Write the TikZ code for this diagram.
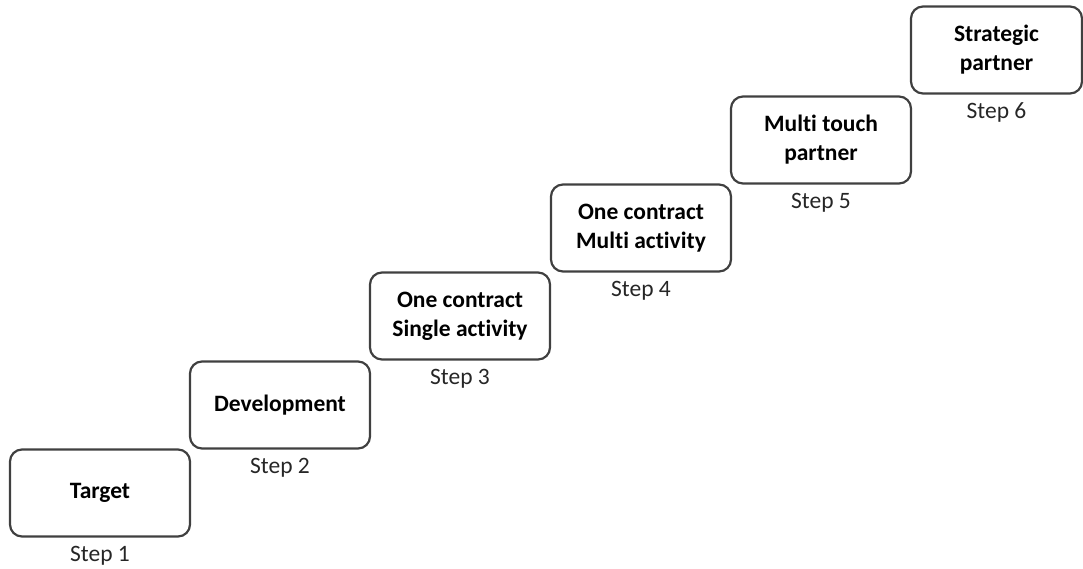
\documentclass[tikz,border=0pt]{standalone}
\usepackage{fontspec}
\setmainfont[Ligatures=NoCommon]{Carlito}
\begin{document}
\begin{tikzpicture}[x=1pt,y=-1pt,
  stage/.style={draw=black!75, line width=2.2pt, rounded corners=12pt,
    align=center, inner sep=0pt, minimum width=180pt, minimum height=87pt,
    font=\bfseries\fontsize{23.5}{29}\selectfont, text=black},
  steplabel/.style={anchor=base, inner sep=0pt,
    font=\fontsize{23.5}{28}\selectfont, text=black!85}]
  \useasboundingbox (0,0) rectangle (1083,569);
  % the six stages, rising from left to right
  \node[stage] (s1) at (100,493)   {Target};
  \node[stage] (s2) at (280,405)   {Development};
  \node[stage] (s3) at (460,316)   {One contract\\Single activity};
  \node[stage] (s4) at (641,228)   {One contract\\Multi activity};
  \node[stage] (s5) at (821,140)   {Multi touch\\partner};
  \node[stage, minimum width=171pt] (s6) at (996.5,50) {Strategic\\partner};
  % step captions under each stage
  \foreach \i in {1,...,6}
    \node[steplabel] (l\i) at ([yshift=-24pt]s\i.south) {Step \i};
\end{tikzpicture}
\end{document}
